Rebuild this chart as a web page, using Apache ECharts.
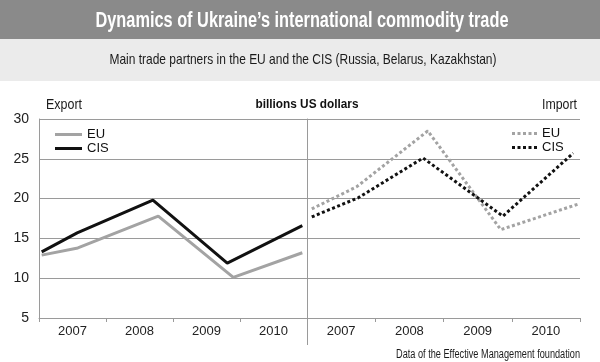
<!DOCTYPE html>
<html><head><meta charset="utf-8">
<script src="https://cdn.jsdelivr.net/npm/echarts@6/dist/echarts.min.js"></script>
<style>html,body{margin:0;padding:0;background:#fff}#c{width:600px;height:362px}</style>
</head><body><div id="c"></div>
<script>
// Category labels
const years = ['2007', '2008', '2009', '2010'];
// Positions along each panel (in year units from panel start) and values, billions US dollars
const exportEUx = [0.04, 0.58, 1.78, 2.90, 3.93];
const exportEU  = [12.9, 13.8, 17.8, 10.1, 13.2];
const exportCISx = [0.04, 0.57, 1.70, 2.81, 3.93];
const exportCIS  = [13.3, 15.7, 19.8, 11.9, 16.6];
const importEUx = [0.07, 0.73, 1.77, 2.84, 3.97];
const importEU  = [18.7, 21.5, 28.5, 16.1, 19.3];
const importCISx = [0.07, 0.75, 1.70, 2.87, 3.90];
const importCIS  = [17.7, 20.1, 25.1, 17.8, 25.7];
const yTicks = [5, 10, 15, 20, 25, 30];

const pair = (xs, ys) => xs.map((x, i) => [x, ys[i]]);
const G = "'Liberation Sans',Arial,sans-serif";
const gridCol = '#9a9a9a';

// condensed-looking text: measure and squeeze horizontally to a target width
const mctx = document.createElement('canvas').getContext('2d');
function squeezed(text, font, x, y, targetW, align, fill) {
  mctx.font = font;
  const w = mctx.measureText(text).width;
  return {type: 'text', x: x, y: y, scaleX: Math.min(1, targetW / w), silent: true, z: 10,
    style: {text: text, font: font, textAlign: align, textVerticalAlign: 'middle', fill: fill}};
}
const dotIcon = 'path://M0,0h3v3h-3z M5.5,0h3v3h-3z M11,0h3v3h-3z M16.5,0h3v3h-3z M22,0h3v3h-3z';

const chart = echarts.init(document.getElementById('c'), null, {renderer: 'canvas'});
const catAxis = (gi) => ({
  type: 'category', gridIndex: gi, data: years, boundaryGap: true,
  axisLine: {show: true, lineStyle: {color: gridCol, width: 1}},
  axisTick: {show: true, length: 4, lineStyle: {color: gridCol}},
  axisLabel: {fontFamily: G, fontSize: 13, color: '#222', margin: 7}
});
const valX = (gi) => ({type: 'value', gridIndex: gi, min: 0, max: 4, show: false});
const yAx = (gi, showLabel) => ({
  type: 'value', gridIndex: gi, min: yTicks[0], max: yTicks[yTicks.length - 1], interval: 5,
  axisLine: {show: true, lineStyle: {color: gridCol, width: 1}},
  axisTick: {show: false},
  axisLabel: {show: showLabel, fontFamily: G, fontSize: 14, color: '#222', margin: 10},
  splitLine: {show: true, lineStyle: {color: gridCol, width: 1}}
});

chart.setOption({
  animation: false,
  backgroundColor: '#fff',
  graphic: [
    {type: 'rect', left: 0, top: 0, shape: {width: 600, height: 39}, style: {fill: '#8a8a8a'}, silent: true, z: -10},
    {type: 'rect', left: 0, top: 39, shape: {width: 600, height: 42}, style: {fill: '#ebebeb'}, silent: true, z: -10},
    {type: 'line', shape: {x1: 307.5, y1: 119, x2: 307.5, y2: 345}, style: {stroke: gridCol, lineWidth: 1}, silent: true},
    squeezed('Dynamics of Ukraine\u2019s international commodity trade', 'bold 22px ' + G, 302, 21, 413, 'center', '#fff'),
    squeezed('Main trade partners in the EU and the CIS (Russia, Belarus, Kazakhstan)', '15px ' + G, 303, 60, 387, 'center', '#1a1a1a'),
    squeezed('Export', '15px ' + G, 46, 105, 36, 'left', '#1a1a1a'),
    squeezed('Import', '15px ' + G, 577, 105, 35, 'right', '#1a1a1a'),
    squeezed('billions US dollars', 'bold 12px ' + G, 307, 105, 103, 'center', '#111'),
    squeezed('Data of the Effective Management foundation', '12px ' + G, 580, 355, 184, 'right', '#1a1a1a')
  ],
  grid: [
    {left: 39, top: 119, width: 268, height: 199},
    {left: 307, top: 119, width: 273, height: 199}
  ],
  xAxis: [catAxis(0), valX(0), catAxis(1), valX(1)],
  yAxis: [yAx(0, true), yAx(1, false)],
  legend: [
    {data: [{name: 'Export EU', icon: 'rect'}, {name: 'Export CIS', icon: 'rect'}], left: 50, top: 123, orient: 'vertical',
     itemWidth: 27, itemHeight: 3, itemGap: 1,
     formatter: n => n.replace('Export ', ''), textStyle: {fontFamily: G, fontSize: 13, color: '#111'}, selectedMode: false},
    {data: [{name: 'Import EU', icon: dotIcon}, {name: 'Import CIS', icon: dotIcon}], left: 507, top: 122, orient: 'vertical',
     itemWidth: 25, itemHeight: 3, itemGap: 1,
     formatter: n => n.replace('Import ', ''), textStyle: {fontFamily: G, fontSize: 13, color: '#111'}, selectedMode: false}
  ],
  series: [
    {name: 'Export EU', type: 'line', xAxisIndex: 1, yAxisIndex: 0, data: pair(exportEUx, exportEU), symbol: 'none',
     lineStyle: {color: '#a3a3a3', width: 3}, itemStyle: {color: '#a3a3a3'}},
    {name: 'Export CIS', type: 'line', xAxisIndex: 1, yAxisIndex: 0, data: pair(exportCISx, exportCIS), symbol: 'none',
     lineStyle: {color: '#111', width: 3}, itemStyle: {color: '#111'}},
    {name: 'Import EU', type: 'line', xAxisIndex: 3, yAxisIndex: 1, data: pair(importEUx, importEU), symbol: 'none',
     lineStyle: {color: '#a3a3a3', width: 3, type: [3, 2.5]}, itemStyle: {color: '#a3a3a3'}},
    {name: 'Import CIS', type: 'line', xAxisIndex: 3, yAxisIndex: 1, data: pair(importCISx, importCIS), symbol: 'none',
     lineStyle: {color: '#111', width: 3, type: [3, 2.5]}, itemStyle: {color: '#111'}}
  ]
});
</script></body></html>
